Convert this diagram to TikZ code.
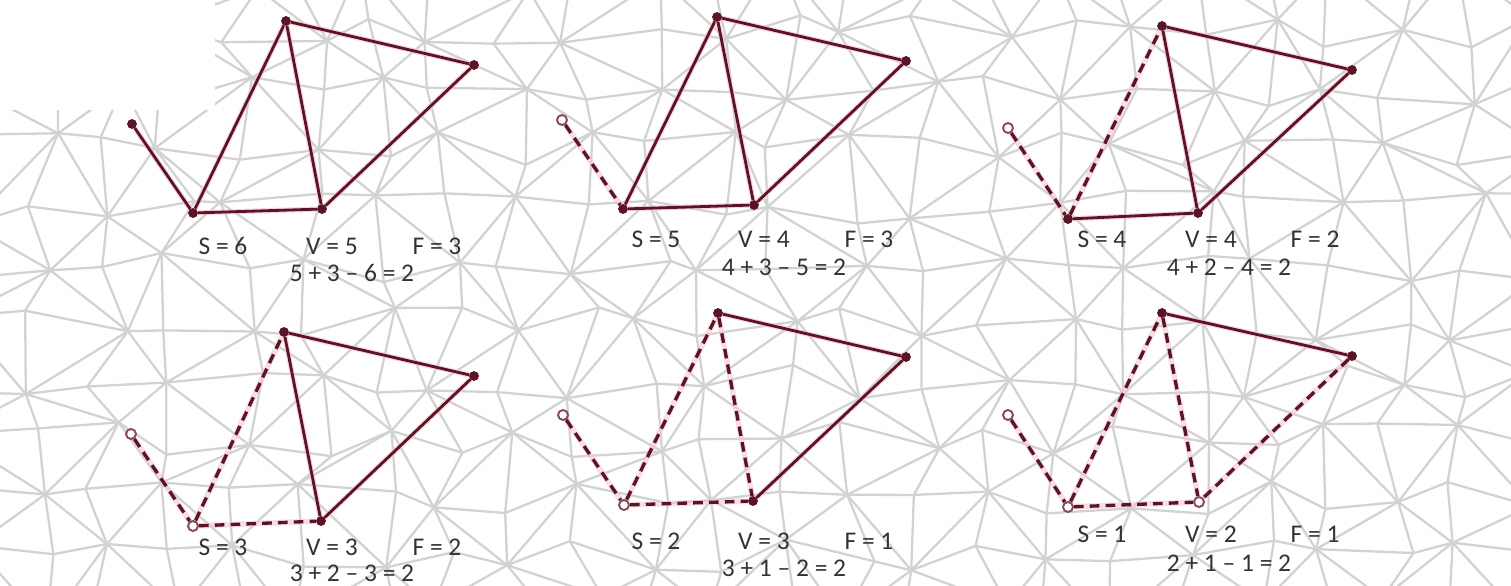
\documentclass[tikz,border=0pt]{standalone}
\usepackage{fontspec}
\setmainfont{Carlito}
\usetikzlibrary{positioning}
\definecolor{edgered}{HTML}{5A1426}
\definecolor{halo}{HTML}{F4C6CF}
\definecolor{meshgray}{HTML}{D2D2D2}
\definecolor{labeltext}{HTML}{333333}
\tikzset{
  vertexnode/.style={circle,fill=edgered,draw=edgered,inner sep=0pt,minimum size=1.8mm},
  opennode/.style={circle,fill=white,draw=edgered!70!halo,line width=1.1pt,inner sep=0pt,minimum size=2mm},
  solidedge/.style={edgered,line width=1.6pt,preaction={draw=halo,draw opacity=0.7,line width=3pt}},
  dashedge/.style={edgered,line width=1.9pt,dash pattern=on 5.5pt off 3.5pt,preaction={draw=halo,draw opacity=0.6,line width=3.2pt,solid}},
  countlabel/.style={font=\fontsize{14.5}{17}\selectfont,text=labeltext,inner sep=0pt},
  meshline/.style={meshgray,line width=1.3pt,line join=round}
}

\begin{document}
\begin{tikzpicture}[x=0.02cm,y=-0.02cm]
  \useasboundingbox (0,0) rectangle (1511,585);
  % background mesh
  \begin{scope}
    \clip (0,0) rectangle (1511,585);
    \pgfmathsetseed{4217}
    \foreach \i in {0,...,23}{
      \foreach \j in {0,...,11}{
        \pgfmathsetmacro\mx{\i*68-30+rand*22}
        \pgfmathsetmacro\my{\j*58-25+rand*18}
        \coordinate (m-\i-\j) at (\mx,\my);
      }
    }
    \foreach \i in {0,...,22}{
      \foreach \j in {0,...,10}{
        \pgfmathtruncatemacro\ii{\i+1}
        \pgfmathtruncatemacro\jj{\j+1}
        \pgfmathtruncatemacro\mpar{mod(\i+\j,2)}
        \draw[meshline] (m-\i-\j) -- (m-\ii-\j) (m-\i-\j) -- (m-\i-\jj);
        \ifnum\mpar=0
          \draw[meshline] (m-\i-\j) -- (m-\ii-\jj);
        \else
          \draw[meshline] (m-\ii-\j) -- (m-\i-\jj);
        \fi
      }
    }
    \fill[white] (0,0) rectangle (215,110);
  \end{scope}

  % S = 6
  \node[vertexnode] (a1) at (132,124) {};
  \node[vertexnode] (b1) at (193,213) {};
  \node[vertexnode] (c1) at (322,209) {};
  \node[vertexnode] (d1) at (286,21) {};
  \node[vertexnode] (e1) at (474,65) {};
  \draw[solidedge] (a1) -- (b1);
  \draw[solidedge] (b1) -- (d1);
  \draw[solidedge] (b1) -- (c1);
  \draw[solidedge] (d1) -- (c1);
  \draw[solidedge] (d1) -- (e1);
  \draw[solidedge] (e1) -- (c1);
  \node[countlabel] (s1) at (223,246) {S = 6};
  \node[countlabel] (v1) at (332,246) {V = 5};
  \node[countlabel] (f1) at (437,246) {F = 3};
  \node[countlabel] (eq1) at (352,273) {5 + 3 – 6 = 2};

  % S = 5
  \node[opennode] (a2) at (562,120) {};
  \node[vertexnode] (b2) at (623,209) {};
  \node[vertexnode] (c2) at (754,205) {};
  \node[vertexnode] (d2) at (717,17) {};
  \node[vertexnode] (e2) at (906,61) {};
  \draw[dashedge] (a2) -- (b2);
  \draw[solidedge] (b2) -- (d2);
  \draw[solidedge] (b2) -- (c2);
  \draw[solidedge] (d2) -- (c2);
  \draw[solidedge] (d2) -- (e2);
  \draw[solidedge] (e2) -- (c2);
  \node[countlabel] (s2) at (656,239) {S = 5};
  \node[countlabel] (v2) at (764,239) {V = 4};
  \node[countlabel] (f2) at (869,239) {F = 3};
  \node[countlabel] (eq2) at (784,267) {4 + 3 – 5 = 2};

  % S = 4
  \node[opennode] (a3) at (1008,128) {};
  \node[vertexnode] (b3) at (1068,219) {};
  \node[vertexnode] (c3) at (1198,213) {};
  \node[vertexnode] (d3) at (1162,26) {};
  \node[vertexnode] (e3) at (1352,70) {};
  \draw[dashedge] (a3) -- (b3);
  \draw[dashedge] (b3) -- (d3);
  \draw[solidedge] (b3) -- (c3);
  \draw[solidedge] (d3) -- (c3);
  \draw[solidedge] (d3) -- (e3);
  \draw[solidedge] (e3) -- (c3);
  \node[countlabel] (s3) at (1102,239) {S = 4};
  \node[countlabel] (v3) at (1211,239) {V = 4};
  \node[countlabel] (f3) at (1315,239) {F = 2};
  \node[countlabel] (eq3) at (1229,267) {4 + 2 – 4 = 2};

  % S = 3
  \node[opennode] (a4) at (131,434) {};
  \node[opennode] (b4) at (193,526) {};
  \node[vertexnode] (c4) at (321,521) {};
  \node[vertexnode] (d4) at (284,332) {};
  \node[vertexnode] (e4) at (474,376) {};
  \draw[dashedge] (a4) -- (b4);
  \draw[dashedge] (b4) -- (d4);
  \draw[dashedge] (b4) -- (c4);
  \draw[solidedge] (d4) -- (c4);
  \draw[solidedge] (d4) -- (e4);
  \draw[solidedge] (e4) -- (c4);
  \node[countlabel] (s4) at (223,547) {S = 3};
  \node[countlabel] (v4) at (332,547) {V = 3};
  \node[countlabel] (f4) at (437,547) {F = 2};
  \node[countlabel] (eq4) at (352,573) {3 + 2 – 3 = 2};

  % S = 2
  \node[opennode] (a5) at (563,415) {};
  \node[opennode] (b5) at (624,505) {};
  \node[vertexnode] (c5) at (753,501) {};
  \node[vertexnode] (d5) at (718,313) {};
  \node[vertexnode] (e5) at (906,357) {};
  \draw[dashedge] (a5) -- (b5);
  \draw[dashedge] (b5) -- (d5);
  \draw[dashedge] (b5) -- (c5);
  \draw[dashedge] (d5) -- (c5);
  \draw[solidedge] (d5) -- (e5);
  \draw[solidedge] (e5) -- (c5);
  \node[countlabel] (s5) at (656,541) {S = 2};
  \node[countlabel] (v5) at (764,541) {V = 3};
  \node[countlabel] (f5) at (869,541) {F = 1};
  \node[countlabel] (eq5) at (784,568) {3 + 1 – 2 = 2};

  % S = 1
  \node[opennode] (a6) at (1008,415) {};
  \node[opennode] (b6) at (1068,507) {};
  \node[opennode] (c6) at (1199,502) {};
  \node[vertexnode] (d6) at (1162,313) {};
  \node[vertexnode] (e6) at (1352,356) {};
  \draw[dashedge] (a6) -- (b6);
  \draw[dashedge] (b6) -- (d6);
  \draw[dashedge] (b6) -- (c6);
  \draw[dashedge] (d6) -- (c6);
  \draw[solidedge] (d6) -- (e6);
  \draw[dashedge] (e6) -- (c6);
  \node[countlabel] (s6) at (1102,534) {S = 1};
  \node[countlabel] (v6) at (1211,534) {V = 2};
  \node[countlabel] (f6) at (1315,534) {F = 1};
  \node[countlabel] (eq6) at (1229,563) {2 + 1 – 1 = 2};
\end{tikzpicture}
\end{document}
